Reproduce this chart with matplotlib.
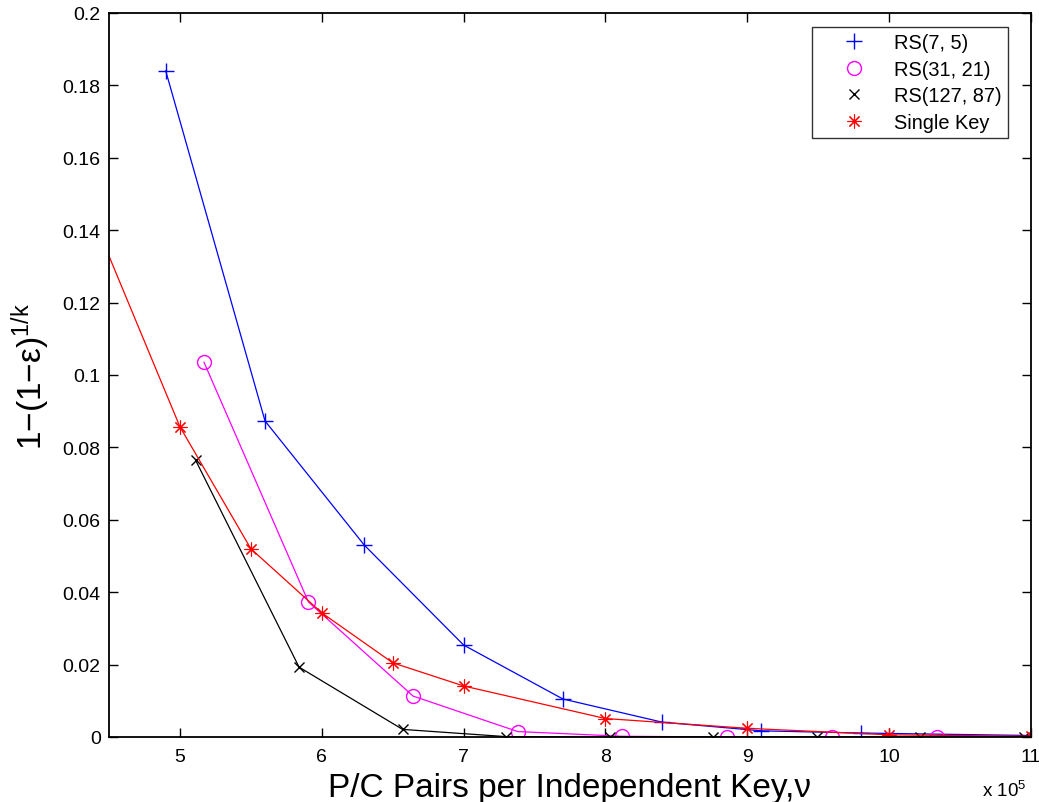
import matplotlib
matplotlib.use("Agg")
import matplotlib.pyplot as plt

plt.rcParams['font.family'] = ['Liberation Sans', 'DejaVu Sans']
plt.rcParams['mathtext.fontset'] = 'custom'
plt.rcParams['mathtext.rm'] = 'Liberation Sans'
plt.rcParams['mathtext.it'] = 'Liberation Sans'
plt.rcParams['mathtext.default'] = 'regular'

# data (x in units of 1e5)
rs7_x = [4.9, 5.6, 6.3, 7.0, 7.7, 8.4, 9.1, 9.8, 11.2]
rs7_y = [0.184, 0.0873, 0.053, 0.0254, 0.0105, 0.0041, 0.0017, 0.0011, 0.0003]

rs31_x = [5.17, 5.906, 6.644, 7.382, 8.12, 8.858, 9.596, 10.334, 11.072]
rs31_y = [0.1035, 0.0373, 0.0113, 0.0015, 0.0002, 0.0, 0.0, 0.0, 0.0]

rs127_x = [5.11, 5.84, 6.57, 7.30, 8.03, 8.76, 9.49, 10.22, 10.95]
rs127_y = [0.0765, 0.0193, 0.0021, 0.0001, 0.0, 0.0, 0.0, 0.0, 0.0]

single_x = [4.0, 5.0, 5.5, 6.0, 6.5, 7.0, 8.0, 9.0, 10.0, 11.0]
single_y = [0.180, 0.0857, 0.0520, 0.0343, 0.0205, 0.0141, 0.0051, 0.0024, 0.0006, 0.0002]

labels = ['RS(7, 5)', 'RS(31, 21)', 'RS(127, 87)', 'Single Key']
xticks = [5, 6, 7, 8, 9, 10, 11]
yticks = [0, 0.02, 0.04, 0.06, 0.08, 0.1, 0.12, 0.14, 0.16, 0.18, 0.2]
ytick_labels = ['0', '0.02', '0.04', '0.06', '0.08', '0.1', '0.12', '0.14', '0.16', '0.18', '0.2']

W, H = 1039, 803
fig = plt.figure(figsize=(W / 100, H / 100), dpi=100)
ax = fig.add_axes([109 / W, 1 - 738 / H, (1031 - 109) / W, (738 - 14) / H])

lw = 0.9
ax.plot(rs7_x, rs7_y, color='blue', marker='+', ms=11, mew=1.0, lw=lw, label=labels[0])
ax.plot(rs31_x, rs31_y, color='magenta', marker='o', ms=10, mfc='none', mew=1.0, lw=lw, label=labels[1])
ax.plot(rs127_x, rs127_y, color='black', marker='x', ms=7, mew=1.0, lw=lw, label=labels[2])
ax.plot(single_x, single_y, color='red', marker=(8, 2, 0), ms=10, mew=0.8, lw=lw, label=labels[3])

ax.set_xlim(4.5, 11)
ax.set_ylim(0, 0.2)
ax.set_xticks(xticks)
ax.set_xticklabels([str(t) for t in xticks])
ax.set_yticks(yticks)
ax.set_yticklabels(ytick_labels)
ax.tick_params(direction='in', length=6.5, width=1, top=True, right=True, labelsize=14)
ax.tick_params(axis='x', pad=8)
ax.tick_params(axis='y', pad=6)
for s in ax.spines.values():
    s.set_linewidth(1.3)

fig.text(570 / W, 1 - 797 / H, 'P/C Pairs per Independent Key,\u03bd', fontsize=24,
         ha='center', va='baseline')
fig.text(31 / W, 1 - 377 / H, '1\u2212(1\u2212\u03b5)$^{1/k}$', fontsize=24,
         ha='center', va='center', rotation=90)
fig.text(982 / W, 1 - 797 / H, 'x 10$^{5}$', fontsize=13.5, ha='left', va='baseline')

leg = fig.legend(loc='upper right', bbox_to_anchor=(1008 / W, 1 - 28 / H), fontsize=14.4,
                 frameon=True, fancybox=False, edgecolor='black', borderaxespad=0,
                 handlelength=3.6, handletextpad=0.2, labelspacing=0.38, borderpad=0.3)
leg.get_frame().set_linewidth(1.0)
for h in leg.legend_handles:
    h.set_linestyle('none')

fig.savefig('out.png', dpi=100)
